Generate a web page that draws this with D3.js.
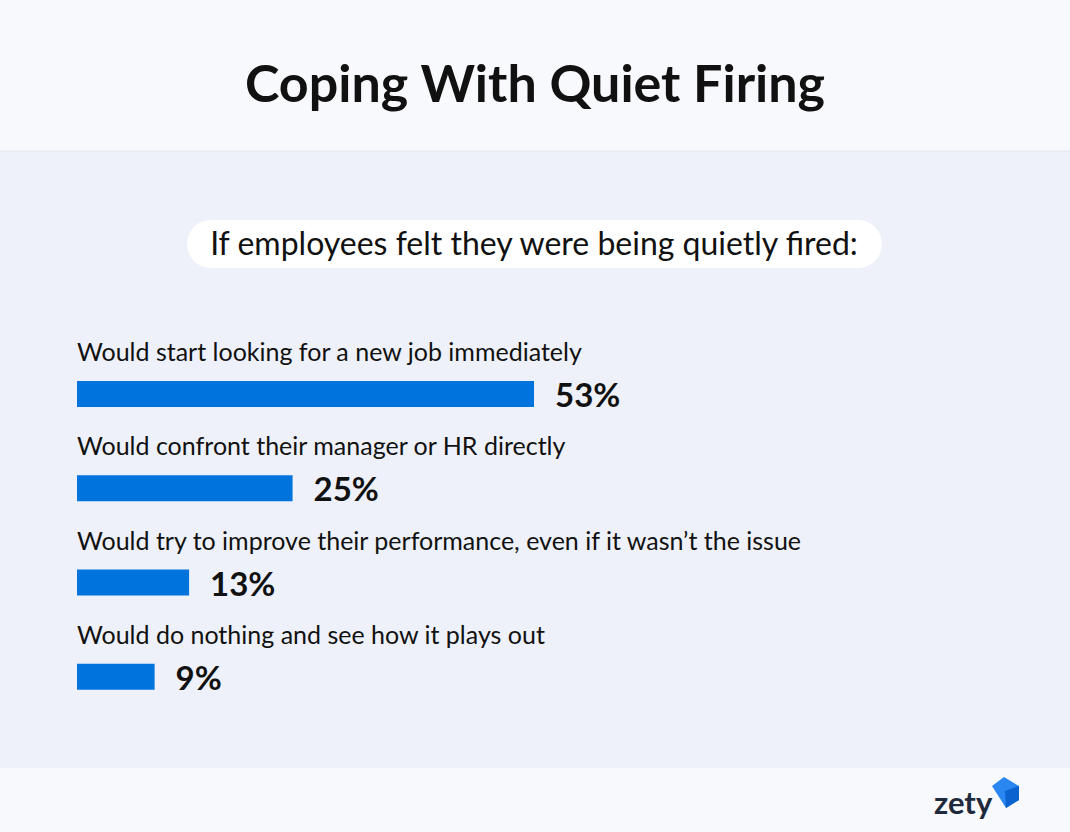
<!DOCTYPE html>
<html><head><meta charset="utf-8">
<script src="https://cdn.jsdelivr.net/npm/d3@7"></script>
<style>body{margin:0}svg{display:block;font-family:Lato,sans-serif}</style>
</head><body><svg width="1070" height="832"></svg>
<script>
var categories = [
  'Would start looking for a new job immediately',
  'Would confront their manager or HR directly',
  'Would try to improve their performance, even if it wasn\u2019t the issue',
  'Would do nothing and see how it plays out'
];
var values = [53, 25, 13, 9];

var svg = d3.select('svg');

// backgrounds
svg.append('rect').attr('width', 1070).attr('height', 832).attr('fill', '#f8f9fd');
svg.append('rect').attr('y', 151).attr('width', 1070).attr('height', 617).attr('fill', '#eef1f9');
svg.append('line').attr('x1', 0).attr('x2', 1070).attr('y1', 151).attr('y2', 151).attr('stroke', '#e3e6ee');

svg.append('text').attr('x', 535).attr('y', 102).attr('text-anchor', 'middle')
  .attr('font-size', 52).attr('font-weight', 700).attr('fill', '#111').text('Coping With Quiet Firing');

// subtitle pill
svg.append('rect').attr('x', 187).attr('y', 220).attr('width', 695).attr('height', 48).attr('rx', 24).attr('fill', '#fff');
svg.append('text').attr('x', 534).attr('y', 255).attr('text-anchor', 'middle')
  .attr('font-size', 32).attr('fill', '#111').text('If employees felt they were being quietly fired:');

var x = d3.scaleLinear().domain([0, 53]).range([77, 534]);
var y = d3.scaleBand().domain(categories).range([335, 712]);

var g = svg.selectAll('.row').data(categories).enter().append('g').attr('class', 'row')
  .attr('transform', function(d){ return 'translate(0,' + y(d) + ')'; });

g.append('text').attr('x', 77).attr('y', 26).attr('font-size', 25).attr('fill', '#111')
  .text(function(d){ return d; });
g.append('rect').attr('x', 77).attr('y', 46).attr('height', 26).attr('fill', '#0073dd')
  .attr('width', function(d, i){ return x(values[i]) - 77; });
g.append('text').attr('x', function(d, i){ return x(values[i]) + 21; }).attr('y', 72)
  .attr('font-size', 33).attr('font-weight', 700).attr('fill', '#111')
  .text(function(d, i){ return values[i] + '%'; });

// logo
svg.append('text').attr('x', 934).attr('y', 814).attr('font-size', 31).attr('font-weight', 700)
  .attr('fill', '#1f2a3c').text('zety');
svg.append('path').attr('d', 'M992,786 L1004,777 L1019,786 L1019,800 L1006,808 Z').attr('fill', '#2a86f0');
svg.append('path').attr('d', 'M1005,791 L1019,786 L1019,800 L1006,808 Z').attr('fill', '#0a63cf');
</script></body></html>
